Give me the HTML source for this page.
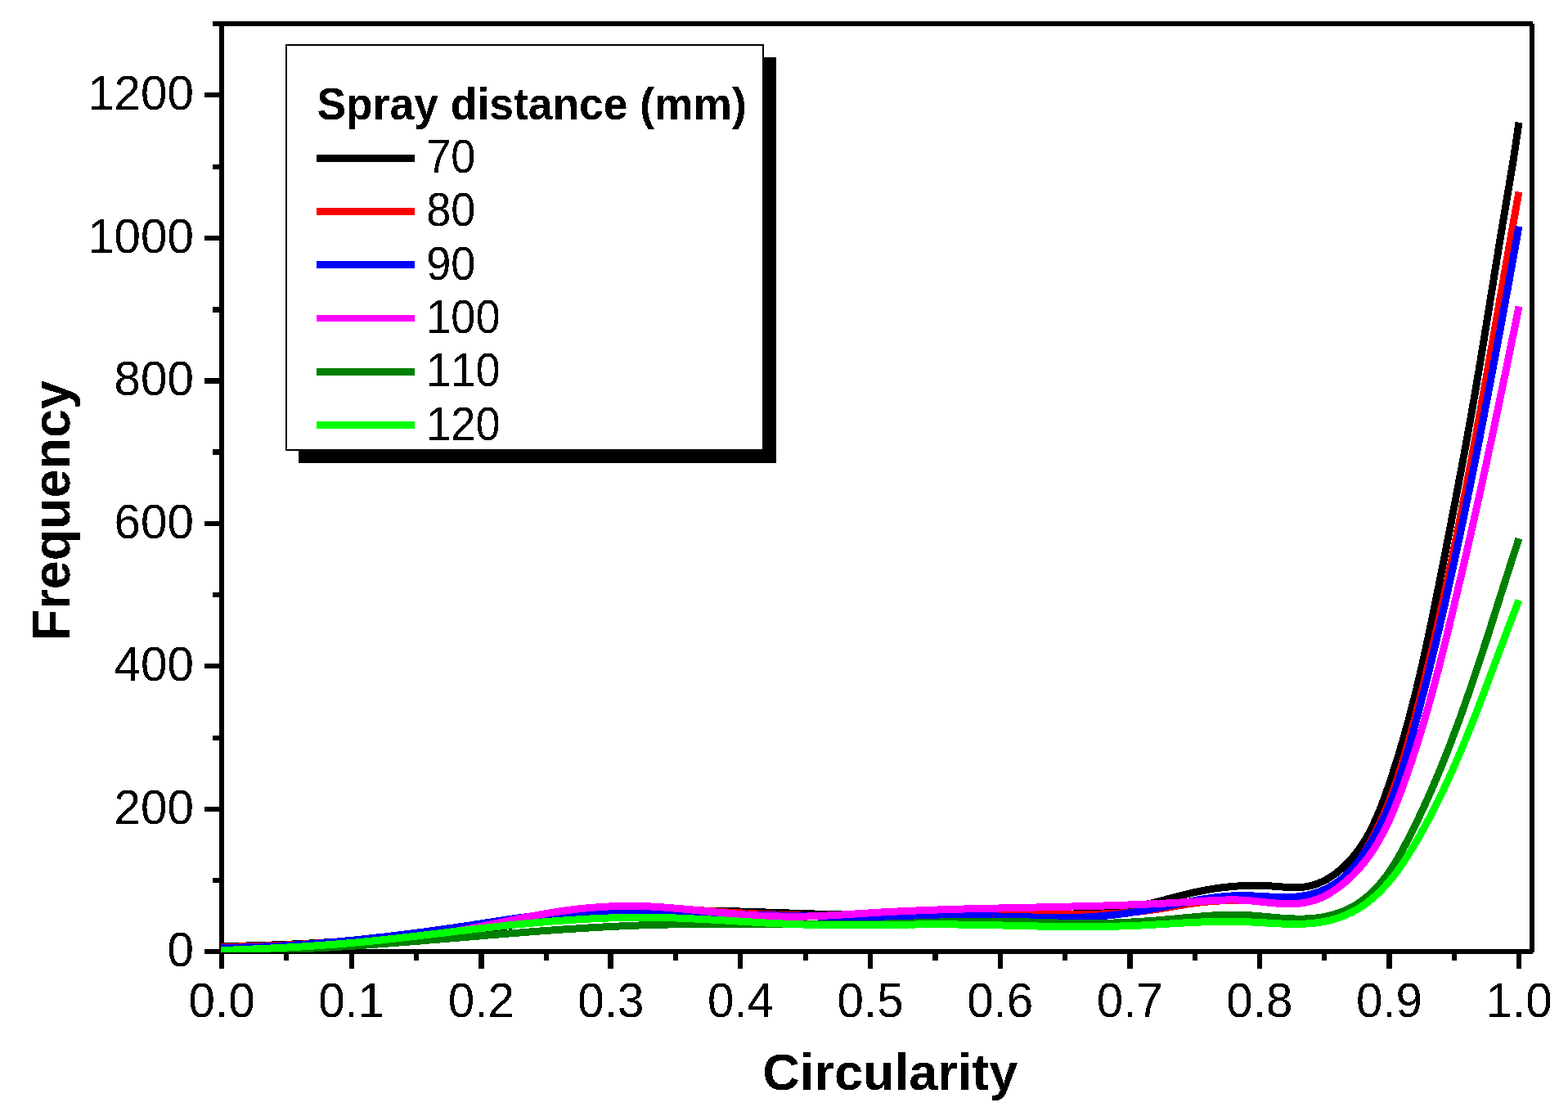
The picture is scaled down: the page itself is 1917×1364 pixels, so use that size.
<!DOCTYPE html>
<html lang="en"><head><meta charset="utf-8"><title>Circularity frequency</title>
<style>
html,body{margin:0;padding:0;background:#fff;}
body{width:1917px;height:1364px;overflow:hidden;}
svg{display:block;}
text{font-family:"Liberation Sans",Arial,Helvetica,sans-serif;fill:#000;font-kerning:none;filter:url(#al);}
.tk{font-size:58.33px;}
.lg{font-size:54.17px;}
.ax{font-size:62.5px;font-weight:bold;}
.b{font-weight:bold;}
</style></head><body>
<svg width="1917" height="1364" viewBox="0 0 1917 1364">
<defs><filter id="al" x="-10%" y="-10%" width="120%" height="120%" color-interpolation-filters="sRGB"><feComponentTransfer><feFuncA type="discrete" tableValues="0 1"/></feComponentTransfer></filter><clipPath id="plot"><rect x="270" y="26" width="1606" height="1138"/></clipPath></defs>
<rect x="0" y="0" width="1917" height="1364" fill="#fff"/>
<g shape-rendering="crispEdges" fill="#000">
<rect x="268" y="26" width="6" height="1158"/>
<rect x="1870" y="29" width="6" height="1135"/>
<rect x="260" y="26" width="1614" height="6"/>
<rect x="250" y="1160" width="1624" height="6"/>
<rect x="260" y="1073" width="8" height="6"/>
<rect x="250" y="986" width="18" height="6"/>
<rect x="260" y="899" width="8" height="6"/>
<rect x="250" y="811" width="18" height="6"/>
<rect x="260" y="724" width="8" height="6"/>
<rect x="250" y="637" width="18" height="6"/>
<rect x="260" y="549" width="8" height="7"/>
<rect x="250" y="462" width="18" height="7"/>
<rect x="260" y="375" width="8" height="7"/>
<rect x="250" y="288" width="18" height="6"/>
<rect x="260" y="201" width="8" height="6"/>
<rect x="250" y="113" width="18" height="6"/>
<rect x="347" y="1166" width="6" height="8"/>
<rect x="427" y="1166" width="6" height="18"/>
<rect x="506" y="1166" width="6" height="8"/>
<rect x="585" y="1166" width="7" height="18"/>
<rect x="665" y="1166" width="6" height="8"/>
<rect x="743" y="1166" width="7" height="18"/>
<rect x="823" y="1166" width="6" height="8"/>
<rect x="902" y="1166" width="6" height="18"/>
<rect x="982" y="1166" width="6" height="8"/>
<rect x="1061" y="1166" width="6" height="18"/>
<rect x="1140" y="1166" width="7" height="8"/>
<rect x="1220" y="1166" width="6" height="18"/>
<rect x="1299" y="1166" width="6" height="8"/>
<rect x="1378" y="1166" width="7" height="18"/>
<rect x="1458" y="1166" width="6" height="8"/>
<rect x="1537" y="1166" width="6" height="18"/>
<rect x="1616" y="1166" width="6" height="8"/>
<rect x="1695" y="1166" width="7" height="18"/>
<rect x="1775" y="1166" width="6" height="8"/>
<rect x="1854" y="1166" width="6" height="18"/>
</g>
<g clip-path="url(#plot)"><g shape-rendering="crispEdges" fill="none" stroke-linejoin="round" stroke-linecap="butt" stroke-width="9">
<path d="M270.0,1156.6 273.9,1156.5 277.8,1156.5 281.6,1156.4 285.5,1156.4 289.4,1156.3 293.3,1156.2 297.2,1156.1 301.1,1156.0 304.9,1155.9 308.8,1155.8 312.7,1155.7 316.6,1155.6 320.5,1155.4 324.4,1155.3 328.2,1155.2 332.1,1155.0 336.0,1154.9 339.9,1154.7 343.8,1154.6 347.6,1154.4 351.5,1154.3 355.4,1154.1 359.3,1153.9 363.2,1153.7 367.1,1153.5 370.9,1153.3 374.8,1153.2 378.7,1153.0 382.6,1152.8 386.5,1152.5 390.3,1152.3 394.2,1152.1 398.1,1151.9 402.0,1151.7 405.8,1151.5 409.7,1151.2 413.6,1151.0 417.5,1150.8 421.4,1150.5 425.2,1150.3 429.1,1150.0 433.0,1149.8 436.9,1149.5 440.7,1149.3 444.6,1149.0 448.5,1148.8 452.4,1148.5 456.2,1148.2 460.1,1148.0 464.0,1147.7 467.9,1147.4 471.7,1147.2 475.6,1146.9 479.5,1146.6 483.4,1146.3 487.2,1146.1 491.1,1145.8 495.0,1145.5 498.8,1145.2 502.7,1144.9 506.6,1144.6 510.5,1144.4 514.3,1144.1 518.2,1143.8 522.1,1143.5 525.9,1143.2 529.8,1142.9 533.7,1142.6 537.5,1142.3 541.4,1141.9 545.3,1141.6 549.1,1141.3 553.0,1140.9 556.9,1140.5 560.7,1140.1 564.6,1139.7 568.4,1139.3 572.3,1138.9 576.1,1138.5 580.0,1138.0 583.9,1137.5 587.7,1137.0 591.6,1136.5 595.4,1135.9 599.3,1135.3 603.1,1134.8 606.9,1134.1 610.8,1133.5 614.6,1132.9 618.5,1132.2 622.3,1131.5 626.2,1130.9 630.0,1130.2 633.8,1129.5 637.7,1128.8 641.5,1128.1 645.4,1127.5 649.2,1126.8 653.0,1126.1 656.9,1125.5 660.7,1124.8 664.6,1124.2 668.4,1123.6 672.3,1123.0 676.1,1122.5 680.0,1121.9 683.8,1121.4 687.7,1120.9 691.5,1120.4 695.4,1119.9 699.2,1119.5 703.1,1119.0 706.9,1118.6 710.8,1118.2 714.6,1117.8 718.5,1117.5 722.4,1117.1 726.2,1116.8 730.1,1116.5 734.0,1116.2 737.8,1115.9 741.7,1115.6 745.6,1115.3 749.4,1115.1 753.3,1114.9 757.2,1114.6 761.0,1114.4 764.9,1114.3 768.8,1114.1 772.6,1113.9 776.5,1113.8 780.4,1113.6 784.3,1113.5 788.1,1113.4 792.0,1113.3 795.9,1113.2 799.8,1113.1 803.6,1113.0 807.5,1113.0 811.4,1112.9 815.3,1112.9 819.2,1112.9 823.0,1112.8 826.9,1112.8 830.8,1112.8 834.7,1112.8 838.6,1112.8 842.4,1112.9 846.3,1112.9 850.2,1112.9 854.1,1113.0 858.0,1113.0 861.9,1113.1 865.7,1113.1 869.6,1113.2 873.5,1113.3 877.4,1113.4 881.3,1113.4 885.2,1113.5 889.1,1113.6 892.9,1113.7 896.8,1113.8 900.7,1113.9 904.6,1114.0 908.5,1114.2 912.4,1114.3 916.3,1114.4 920.2,1114.5 924.0,1114.6 927.9,1114.8 931.8,1114.9 935.7,1115.0 939.6,1115.2 943.5,1115.3 947.4,1115.4 951.3,1115.5 955.1,1115.7 959.0,1115.8 962.9,1115.9 966.8,1116.1 970.7,1116.2 974.6,1116.3 978.5,1116.5 982.4,1116.6 986.2,1116.7 990.1,1116.8 994.0,1116.9 997.9,1117.1 1001.8,1117.2 1005.7,1117.3 1009.6,1117.4 1013.4,1117.5 1017.3,1117.6 1021.2,1117.7 1025.1,1117.8 1029.0,1117.8 1032.9,1117.9 1036.7,1118.0 1040.6,1118.0 1044.5,1118.1 1048.4,1118.2 1052.3,1118.2 1056.2,1118.3 1060.0,1118.3 1063.9,1118.3 1067.8,1118.4 1071.7,1118.4 1075.6,1118.4 1079.4,1118.4 1083.3,1118.4 1087.2,1118.4 1091.1,1118.5 1094.9,1118.5 1098.8,1118.5 1102.7,1118.5 1106.6,1118.5 1110.5,1118.4 1114.3,1118.4 1118.2,1118.4 1122.1,1118.4 1126.0,1118.4 1129.9,1118.4 1133.7,1118.4 1137.6,1118.3 1141.5,1118.3 1145.4,1118.3 1149.3,1118.3 1153.1,1118.3 1157.0,1118.2 1160.9,1118.2 1164.8,1118.2 1168.7,1118.2 1172.5,1118.1 1176.4,1118.1 1180.3,1118.1 1184.2,1118.1 1188.1,1118.1 1192.0,1118.0 1195.9,1118.0 1199.7,1118.0 1203.6,1118.0 1207.5,1118.0 1211.4,1118.0 1215.3,1118.0 1219.2,1118.0 1223.1,1118.0 1227.0,1118.0 1230.9,1118.0 1234.7,1118.0 1238.6,1118.0 1242.5,1118.0 1246.4,1118.0 1250.3,1118.0 1254.2,1118.0 1258.1,1118.0 1262.0,1118.0 1265.9,1118.0 1269.8,1118.0 1273.7,1118.0 1277.6,1117.9 1281.5,1117.9 1285.4,1117.8 1289.2,1117.8 1293.1,1117.7 1297.0,1117.6 1300.9,1117.4 1304.8,1117.3 1308.7,1117.2 1312.5,1117.0 1316.4,1116.8 1320.3,1116.6 1324.1,1116.3 1328.0,1116.1 1331.9,1115.8 1335.7,1115.4 1339.6,1115.1 1343.4,1114.7 1347.3,1114.3 1351.1,1113.9 1355.0,1113.4 1358.8,1112.9 1362.6,1112.4 1366.5,1111.8 1370.3,1111.3 1374.1,1110.6 1377.9,1110.0 1381.8,1109.3 1385.6,1108.6 1389.4,1107.9 1393.2,1107.1 1397.0,1106.3 1400.8,1105.5 1404.6,1104.6 1408.4,1103.7 1412.2,1102.8 1415.9,1101.8 1419.7,1100.9 1423.5,1099.9 1427.3,1098.9 1431.1,1097.9 1434.9,1097.0 1438.6,1096.0 1442.4,1095.0 1446.2,1094.1 1450.0,1093.1 1453.8,1092.2 1457.6,1091.3 1461.3,1090.5 1465.1,1089.6 1468.9,1088.9 1472.7,1088.1 1476.5,1087.4 1480.3,1086.8 1484.2,1086.1 1488.0,1085.6 1491.8,1085.1 1495.6,1084.6 1499.4,1084.2 1503.3,1083.8 1507.1,1083.4 1511.0,1083.1 1514.8,1082.9 1518.7,1082.7 1522.6,1082.5 1526.4,1082.4 1530.3,1082.4 1534.2,1082.3 1538.1,1082.4 1542.0,1082.4 1545.9,1082.5 1549.8,1082.7 1553.8,1082.9 1557.7,1083.2 1561.7,1083.5 1565.6,1083.8 1569.6,1084.1 1573.5,1084.4 1577.5,1084.6 1581.4,1084.7 1585.3,1084.8 1589.1,1084.6 1593.0,1084.3 1596.7,1083.8 1600.5,1083.1 1604.2,1082.2 1607.8,1081.1 1611.4,1079.8 1614.9,1078.3 1618.4,1076.7 1621.8,1074.9 1625.1,1072.9 1628.4,1070.8 1631.6,1068.6 1634.7,1066.3 1637.7,1063.8 1640.7,1061.2 1643.6,1058.6 1646.4,1055.8 1649.1,1053.0 1651.8,1050.1 1654.3,1047.1 1656.8,1044.1 1659.2,1041.1 1661.4,1038.0 1663.7,1034.8 1665.8,1031.6 1667.9,1028.3 1669.9,1025.0 1671.8,1021.7 1673.7,1018.3 1675.5,1014.9 1677.3,1011.4 1679.0,1007.9 1680.6,1004.4 1682.2,1000.9 1683.8,997.3 1685.3,993.7 1686.8,990.1 1688.2,986.5 1689.6,982.9 1691.0,979.2 1692.3,975.5 1693.7,971.8 1695.0,968.1 1696.3,964.5 1697.5,960.8 1698.8,957.1 1700.1,953.4 1701.3,949.6 1702.5,945.9 1703.7,942.2 1704.9,938.5 1706.1,934.8 1707.3,931.1 1708.4,927.4 1709.6,923.6 1710.7,919.9 1711.8,916.2 1712.9,912.4 1714.0,908.7 1715.1,905.0 1716.2,901.2 1717.2,897.5 1718.3,893.7 1719.3,890.0 1720.4,886.3 1721.4,882.5 1722.4,878.8 1723.4,875.0 1724.4,871.2 1725.4,867.5 1726.3,863.7 1727.3,860.0 1728.2,856.2 1729.2,852.4 1730.1,848.7 1731.1,844.9 1732.0,841.1 1732.9,837.4 1733.8,833.6 1734.7,829.8 1735.6,826.0 1736.5,822.3 1737.3,818.5 1738.2,814.7 1739.1,810.9 1739.9,807.1 1740.8,803.3 1741.6,799.6 1742.4,795.8 1743.3,792.0 1744.1,788.2 1744.9,784.4 1745.7,780.6 1746.5,776.8 1747.3,773.0 1748.1,769.2 1748.9,765.4 1749.7,761.6 1750.5,757.8 1751.3,754.0 1752.1,750.2 1752.9,746.4 1753.6,742.6 1754.4,738.8 1755.2,735.0 1755.9,731.2 1756.7,727.4 1757.5,723.6 1758.2,719.8 1759.0,716.0 1759.7,712.2 1760.5,708.4 1761.2,704.6 1762.0,700.7 1762.7,696.9 1763.5,693.1 1764.2,689.3 1765.0,685.5 1765.7,681.7 1766.5,677.9 1767.2,674.1 1768.0,670.3 1768.7,666.4 1769.4,662.6 1770.2,658.8 1770.9,655.0 1771.7,651.2 1772.4,647.4 1773.2,643.6 1773.9,639.8 1774.6,635.9 1775.4,632.1 1776.1,628.3 1776.8,624.5 1777.6,620.7 1778.3,616.9 1779.1,613.0 1779.8,609.2 1780.5,605.4 1781.2,601.6 1782.0,597.8 1782.7,594.0 1783.4,590.1 1784.1,586.3 1784.9,582.5 1785.6,578.7 1786.3,574.9 1787.0,571.1 1787.7,567.2 1788.4,563.4 1789.1,559.6 1789.9,555.8 1790.6,551.9 1791.3,548.1 1792.0,544.3 1792.7,540.5 1793.4,536.7 1794.1,532.8 1794.8,529.0 1795.4,525.2 1796.1,521.4 1796.8,517.5 1797.5,513.7 1798.2,509.9 1798.9,506.1 1799.5,502.2 1800.2,498.4 1800.9,494.6 1801.5,490.8 1802.2,486.9 1802.9,483.1 1803.5,479.3 1804.2,475.5 1804.8,471.6 1805.5,467.8 1806.1,464.0 1806.8,460.1 1807.4,456.3 1808.1,452.5 1808.7,448.6 1809.3,444.8 1810.0,441.0 1810.6,437.2 1811.2,433.3 1811.9,429.5 1812.5,425.7 1813.1,421.8 1813.8,418.0 1814.4,414.2 1815.0,410.3 1815.6,406.5 1816.2,402.7 1816.9,398.8 1817.5,395.0 1818.1,391.2 1818.7,387.3 1819.3,383.5 1820.0,379.7 1820.6,375.8 1821.2,372.0 1821.8,368.2 1822.4,364.3 1823.0,360.5 1823.7,356.7 1824.3,352.8 1824.9,349.0 1825.5,345.2 1826.1,341.3 1826.7,337.5 1827.3,333.7 1828.0,329.8 1828.6,326.0 1829.2,322.2 1829.8,318.3 1830.4,314.5 1831.1,310.7 1831.7,306.8 1832.3,303.0 1832.9,299.2 1833.6,295.3 1834.2,291.5 1834.8,287.7 1835.4,283.8 1836.1,280.0 1836.7,276.2 1837.3,272.3 1838.0,268.5 1838.6,264.7 1839.3,260.8 1839.9,257.0 1840.6,253.2 1841.2,249.3 1841.8,245.5 1842.5,241.7 1843.1,237.9 1843.8,234.0 1844.4,230.2 1845.1,226.4 1845.7,222.5 1846.3,218.7 1847.0,214.9 1847.6,211.0 1848.2,207.2 1848.9,203.4 1849.5,199.5 1850.1,195.7 1850.7,191.9 1851.3,188.0 1851.9,184.2 1852.5,180.3 1853.1,176.5 1853.7,172.7 1854.2,168.8 1854.8,165.0 1855.4,161.1 1855.9,157.3 1856.5,153.4 1857.0,149.6" stroke="#000000"/>
<path d="M270.0,1157.5 273.8,1157.4 277.5,1157.3 281.3,1157.3 285.1,1157.2 288.8,1157.1 292.6,1157.0 296.3,1156.9 300.1,1156.8 303.9,1156.7 307.6,1156.6 311.4,1156.5 315.2,1156.3 318.9,1156.2 322.7,1156.1 326.5,1155.9 330.2,1155.8 334.0,1155.7 337.7,1155.5 341.5,1155.3 345.3,1155.2 349.0,1155.0 352.8,1154.8 356.6,1154.7 360.3,1154.5 364.1,1154.3 367.8,1154.1 371.6,1153.9 375.4,1153.7 379.1,1153.5 382.9,1153.2 386.6,1153.0 390.4,1152.8 394.2,1152.5 397.9,1152.3 401.7,1152.0 405.4,1151.8 409.2,1151.5 412.9,1151.2 416.7,1151.0 420.4,1150.7 424.2,1150.4 427.9,1150.1 431.7,1149.8 435.4,1149.4 439.2,1149.1 442.9,1148.8 446.7,1148.4 450.4,1148.1 454.2,1147.7 457.9,1147.4 461.7,1147.0 465.4,1146.6 469.2,1146.2 472.9,1145.8 476.7,1145.4 480.4,1145.0 484.1,1144.6 487.9,1144.2 491.6,1143.7 495.3,1143.3 499.1,1142.8 502.8,1142.4 506.6,1141.9 510.3,1141.4 514.0,1140.9 517.7,1140.4 521.5,1139.9 525.2,1139.4 528.9,1138.9 532.7,1138.3 536.4,1137.8 540.1,1137.3 543.8,1136.7 547.6,1136.2 551.3,1135.6 555.0,1135.0 558.7,1134.5 562.5,1133.9 566.2,1133.3 569.9,1132.7 573.6,1132.2 577.3,1131.6 581.1,1131.0 584.8,1130.4 588.5,1129.8 592.2,1129.2 595.9,1128.6 599.7,1128.1 603.4,1127.5 607.1,1126.9 610.8,1126.3 614.5,1125.7 618.3,1125.1 622.0,1124.6 625.7,1124.0 629.4,1123.4 633.2,1122.8 636.9,1122.3 640.6,1121.7 644.3,1121.2 648.1,1120.6 651.8,1120.1 655.5,1119.6 659.3,1119.0 663.0,1118.5 666.7,1118.0 670.5,1117.5 674.2,1117.0 677.9,1116.5 681.7,1116.0 685.4,1115.6 689.1,1115.1 692.9,1114.7 696.6,1114.2 700.4,1113.8 704.1,1113.4 707.9,1113.0 711.6,1112.6 715.4,1112.3 719.1,1111.9 722.8,1111.6 726.6,1111.3 730.3,1111.0 734.1,1110.7 737.9,1110.4 741.6,1110.2 745.4,1110.0 749.1,1109.8 752.9,1109.6 756.6,1109.4 760.4,1109.3 764.1,1109.1 767.9,1109.0 771.7,1109.0 775.4,1108.9 779.2,1108.9 782.9,1108.9 786.7,1108.9 790.5,1108.9 794.2,1109.0 798.0,1109.1 801.8,1109.2 805.5,1109.4 809.3,1109.6 813.1,1109.8 816.8,1110.0 820.6,1110.2 824.3,1110.4 828.1,1110.7 831.9,1111.0 835.6,1111.2 839.4,1111.5 843.2,1111.8 846.9,1112.0 850.7,1112.3 854.4,1112.6 858.2,1112.8 862.0,1113.1 865.7,1113.4 869.5,1113.6 873.2,1113.9 877.0,1114.1 880.7,1114.4 884.5,1114.6 888.2,1114.9 892.0,1115.1 895.7,1115.3 899.5,1115.6 903.3,1115.8 907.0,1116.0 910.8,1116.2 914.5,1116.4 918.3,1116.6 922.1,1116.8 925.8,1117.0 929.6,1117.2 933.3,1117.4 937.1,1117.5 940.9,1117.7 944.6,1117.9 948.4,1118.0 952.1,1118.2 955.9,1118.3 959.7,1118.4 963.4,1118.6 967.2,1118.7 971.0,1118.8 974.7,1118.9 978.5,1119.0 982.2,1119.1 986.0,1119.2 989.8,1119.3 993.5,1119.4 997.3,1119.4 1001.1,1119.5 1004.8,1119.6 1008.6,1119.6 1012.4,1119.7 1016.1,1119.7 1019.9,1119.7 1023.7,1119.8 1027.4,1119.8 1031.2,1119.8 1035.0,1119.8 1038.7,1119.8 1042.5,1119.8 1046.3,1119.7 1050.0,1119.7 1053.8,1119.7 1057.5,1119.7 1061.3,1119.6 1065.1,1119.6 1068.8,1119.5 1072.6,1119.4 1076.4,1119.3 1080.1,1119.3 1083.9,1119.2 1087.7,1119.1 1091.4,1119.0 1095.2,1118.9 1098.9,1118.8 1102.7,1118.7 1106.5,1118.6 1110.2,1118.5 1114.0,1118.4 1117.7,1118.2 1121.5,1118.1 1125.3,1118.0 1129.0,1117.9 1132.8,1117.8 1136.6,1117.7 1140.3,1117.5 1144.1,1117.4 1147.8,1117.3 1151.6,1117.2 1155.4,1117.1 1159.1,1117.0 1162.9,1116.9 1166.6,1116.8 1170.4,1116.7 1174.2,1116.6 1177.9,1116.5 1181.7,1116.4 1185.5,1116.4 1189.2,1116.3 1193.0,1116.2 1196.8,1116.2 1200.5,1116.1 1204.3,1116.1 1208.0,1116.1 1211.8,1116.0 1215.6,1116.0 1219.3,1116.0 1223.1,1116.0 1226.9,1116.1 1230.6,1116.1 1234.4,1116.1 1238.2,1116.2 1242.0,1116.2 1245.7,1116.3 1249.5,1116.3 1253.3,1116.4 1257.0,1116.5 1260.8,1116.6 1264.6,1116.6 1268.3,1116.7 1272.1,1116.8 1275.9,1116.9 1279.6,1116.9 1283.4,1117.0 1287.2,1117.1 1290.9,1117.2 1294.7,1117.2 1298.5,1117.3 1302.2,1117.3 1306.0,1117.4 1309.8,1117.4 1313.5,1117.4 1317.3,1117.4 1321.1,1117.4 1324.8,1117.4 1328.6,1117.4 1332.3,1117.3 1336.1,1117.3 1339.9,1117.2 1343.6,1117.1 1347.4,1117.0 1351.1,1116.9 1354.9,1116.8 1358.6,1116.6 1362.4,1116.4 1366.1,1116.2 1369.9,1116.0 1373.6,1115.8 1377.4,1115.5 1381.1,1115.2 1384.9,1114.9 1388.6,1114.5 1392.4,1114.2 1396.1,1113.7 1399.8,1113.3 1403.6,1112.8 1407.3,1112.4 1411.0,1111.8 1414.8,1111.3 1418.5,1110.7 1422.2,1110.1 1425.9,1109.4 1429.7,1108.8 1433.4,1108.2 1437.1,1107.5 1440.8,1106.9 1444.6,1106.3 1448.3,1105.6 1452.0,1105.0 1455.8,1104.5 1459.5,1104.0 1463.2,1103.5 1467.0,1103.0 1470.7,1102.6 1474.5,1102.2 1478.2,1101.9 1482.0,1101.6 1485.7,1101.3 1489.5,1101.1 1493.2,1100.8 1497.0,1100.7 1500.8,1100.5 1504.5,1100.4 1508.3,1100.3 1512.0,1100.3 1515.8,1100.2 1519.5,1100.2 1523.3,1100.1 1527.0,1100.1 1530.8,1100.1 1534.5,1100.1 1538.3,1100.0 1542.1,1100.0 1545.8,1099.9 1549.6,1099.9 1553.3,1099.8 1557.1,1099.7 1560.9,1099.5 1564.6,1099.4 1568.4,1099.2 1572.2,1099.0 1576.0,1098.7 1579.8,1098.4 1583.5,1098.0 1587.3,1097.6 1591.1,1097.0 1594.8,1096.4 1598.5,1095.7 1602.2,1094.9 1605.8,1094.0 1609.4,1092.9 1613.0,1091.7 1616.5,1090.4 1619.9,1088.8 1623.3,1087.2 1626.6,1085.3 1629.8,1083.4 1632.9,1081.3 1635.9,1079.1 1638.9,1076.8 1641.7,1074.4 1644.4,1071.9 1647.1,1069.3 1649.7,1066.6 1652.2,1063.8 1654.6,1060.9 1656.9,1058.0 1659.2,1055.0 1661.4,1051.9 1663.5,1048.8 1665.6,1045.6 1667.7,1042.4 1669.6,1039.1 1671.6,1035.8 1673.5,1032.5 1675.3,1029.2 1677.1,1025.8 1678.9,1022.5 1680.6,1019.1 1682.3,1015.7 1684.0,1012.3 1685.6,1008.9 1687.2,1005.5 1688.8,1002.0 1690.3,998.6 1691.8,995.1 1693.3,991.7 1694.7,988.2 1696.1,984.7 1697.5,981.2 1698.9,977.7 1700.2,974.2 1701.6,970.7 1702.9,967.1 1704.1,963.6 1705.4,960.0 1706.6,956.5 1707.8,952.9 1709.0,949.4 1710.2,945.8 1711.3,942.2 1712.4,938.6 1713.5,935.0 1714.6,931.4 1715.7,927.8 1716.8,924.2 1717.9,920.6 1718.9,917.0 1719.9,913.4 1721.0,909.8 1722.0,906.2 1723.0,902.5 1724.0,898.9 1725.0,895.3 1726.0,891.6 1726.9,888.0 1727.9,884.4 1728.9,880.7 1729.8,877.1 1730.8,873.5 1731.8,869.8 1732.7,866.2 1733.6,862.5 1734.6,858.9 1735.5,855.2 1736.5,851.6 1737.4,847.9 1738.3,844.3 1739.2,840.6 1740.1,837.0 1741.0,833.3 1741.9,829.7 1742.8,826.0 1743.7,822.3 1744.6,818.7 1745.5,815.0 1746.4,811.4 1747.3,807.7 1748.2,804.0 1749.0,800.4 1749.9,796.7 1750.8,793.0 1751.6,789.4 1752.5,785.7 1753.3,782.0 1754.2,778.4 1755.0,774.7 1755.9,771.0 1756.7,767.4 1757.6,763.7 1758.4,760.0 1759.2,756.3 1760.0,752.7 1760.9,749.0 1761.7,745.3 1762.5,741.6 1763.3,738.0 1764.1,734.3 1764.9,730.6 1765.7,726.9 1766.5,723.2 1767.3,719.6 1768.1,715.9 1768.9,712.2 1769.7,708.5 1770.5,704.8 1771.3,701.2 1772.1,697.5 1772.8,693.8 1773.6,690.1 1774.4,686.4 1775.1,682.7 1775.9,679.0 1776.7,675.4 1777.4,671.7 1778.2,668.0 1778.9,664.3 1779.7,660.6 1780.4,656.9 1781.2,653.2 1781.9,649.5 1782.7,645.8 1783.4,642.1 1784.2,638.5 1784.9,634.8 1785.6,631.1 1786.3,627.4 1787.1,623.7 1787.8,620.0 1788.5,616.3 1789.2,612.6 1790.0,608.9 1790.7,605.2 1791.4,601.5 1792.1,597.8 1792.8,594.1 1793.5,590.4 1794.2,586.7 1794.9,583.0 1795.6,579.3 1796.3,575.6 1797.0,571.9 1797.7,568.2 1798.4,564.5 1799.1,560.8 1799.8,557.1 1800.5,553.4 1801.2,549.7 1801.9,546.0 1802.5,542.3 1803.2,538.6 1803.9,534.9 1804.6,531.2 1805.3,527.5 1805.9,523.8 1806.6,520.1 1807.3,516.4 1807.9,512.7 1808.6,509.0 1809.3,505.3 1810.0,501.6 1810.6,497.9 1811.3,494.2 1811.9,490.4 1812.6,486.7 1813.3,483.0 1813.9,479.3 1814.6,475.6 1815.3,471.9 1815.9,468.2 1816.6,464.5 1817.2,460.8 1817.9,457.1 1818.5,453.4 1819.2,449.7 1819.8,446.0 1820.5,442.3 1821.1,438.5 1821.8,434.8 1822.4,431.1 1823.1,427.4 1823.7,423.7 1824.4,420.0 1825.0,416.3 1825.7,412.6 1826.3,408.9 1827.0,405.2 1827.6,401.5 1828.3,397.7 1828.9,394.0 1829.6,390.3 1830.2,386.6 1830.9,382.9 1831.5,379.2 1832.1,375.5 1832.8,371.8 1833.4,368.1 1834.1,364.4 1834.7,360.7 1835.4,356.9 1836.0,353.2 1836.7,349.5 1837.3,345.8 1838.0,342.1 1838.6,338.4 1839.2,334.7 1839.9,331.0 1840.5,327.3 1841.2,323.6 1841.8,319.9 1842.5,316.1 1843.1,312.4 1843.8,308.7 1844.4,305.0 1845.1,301.3 1845.8,297.6 1846.4,293.9 1847.1,290.2 1847.7,286.5 1848.4,282.8 1849.0,279.1 1849.7,275.4 1850.3,271.7 1851.0,267.9 1851.7,264.2 1852.3,260.5 1853.0,256.8 1853.7,253.1 1854.3,249.4 1855.0,245.7 1855.7,242.0 1856.3,238.3 1857.0,234.6" stroke="#ff0000"/>
<path d="M270.0,1158.5 273.7,1158.5 277.4,1158.4 281.1,1158.3 284.8,1158.3 288.5,1158.2 292.2,1158.1 295.9,1158.0 299.6,1157.9 303.3,1157.8 307.0,1157.7 310.7,1157.5 314.4,1157.4 318.1,1157.3 321.8,1157.1 325.5,1156.9 329.2,1156.8 332.9,1156.6 336.5,1156.4 340.2,1156.2 343.9,1156.0 347.6,1155.8 351.3,1155.6 355.0,1155.4 358.7,1155.1 362.4,1154.9 366.0,1154.6 369.7,1154.4 373.4,1154.1 377.1,1153.9 380.8,1153.6 384.5,1153.3 388.1,1153.0 391.8,1152.7 395.5,1152.4 399.2,1152.1 402.9,1151.8 406.5,1151.5 410.2,1151.2 413.9,1150.8 417.6,1150.5 421.3,1150.1 424.9,1149.8 428.6,1149.4 432.3,1149.1 436.0,1148.7 439.6,1148.3 443.3,1147.9 447.0,1147.5 450.7,1147.1 454.3,1146.7 458.0,1146.3 461.7,1145.9 465.3,1145.5 469.0,1145.1 472.7,1144.7 476.3,1144.2 480.0,1143.8 483.7,1143.4 487.3,1142.9 491.0,1142.5 494.7,1142.0 498.3,1141.5 502.0,1141.1 505.7,1140.6 509.3,1140.1 513.0,1139.6 516.7,1139.2 520.3,1138.7 524.0,1138.2 527.7,1137.7 531.3,1137.2 535.0,1136.7 538.7,1136.1 542.3,1135.6 546.0,1135.1 549.6,1134.6 553.3,1134.1 557.0,1133.5 560.6,1133.0 564.3,1132.5 567.9,1131.9 571.6,1131.4 575.3,1130.8 578.9,1130.3 582.6,1129.7 586.2,1129.2 589.9,1128.6 593.5,1128.0 597.2,1127.5 600.9,1126.9 604.5,1126.3 608.2,1125.8 611.8,1125.2 615.5,1124.7 619.1,1124.1 622.8,1123.6 626.5,1123.0 630.1,1122.5 633.8,1122.0 637.4,1121.5 641.1,1121.0 644.8,1120.5 648.4,1120.0 652.1,1119.6 655.8,1119.1 659.4,1118.7 663.1,1118.3 666.8,1118.0 670.4,1117.6 674.1,1117.3 677.8,1117.0 681.5,1116.7 685.1,1116.4 688.8,1116.1 692.5,1115.9 696.2,1115.7 699.9,1115.5 703.6,1115.3 707.2,1115.2 710.9,1115.0 714.6,1114.9 718.3,1114.8 722.0,1114.7 725.7,1114.6 729.4,1114.5 733.1,1114.4 736.8,1114.4 740.5,1114.3 744.2,1114.3 747.9,1114.3 751.6,1114.3 755.3,1114.3 759.0,1114.3 762.7,1114.3 766.4,1114.4 770.0,1114.4 773.7,1114.4 777.4,1114.5 781.1,1114.5 784.8,1114.6 788.5,1114.7 792.2,1114.7 795.9,1114.8 799.6,1114.9 803.3,1115.0 807.0,1115.0 810.7,1115.1 814.4,1115.2 818.1,1115.3 821.8,1115.4 825.5,1115.5 829.2,1115.6 832.9,1115.7 836.6,1115.8 840.3,1115.9 844.0,1116.0 847.7,1116.1 851.4,1116.2 855.1,1116.3 858.8,1116.4 862.5,1116.5 866.2,1116.6 869.9,1116.7 873.6,1116.8 877.3,1116.9 881.0,1117.0 884.7,1117.1 888.4,1117.2 892.0,1117.3 895.7,1117.4 899.4,1117.5 903.1,1117.6 906.8,1117.8 910.5,1117.9 914.2,1118.0 917.9,1118.1 921.6,1118.2 925.3,1118.3 929.0,1118.4 932.7,1118.5 936.4,1118.6 940.1,1118.7 943.8,1118.8 947.5,1118.9 951.1,1119.0 954.8,1119.1 958.5,1119.1 962.2,1119.2 965.9,1119.3 969.6,1119.4 973.3,1119.5 977.0,1119.6 980.7,1119.7 984.4,1119.7 988.1,1119.8 991.8,1119.9 995.5,1119.9 999.2,1120.0 1002.8,1120.1 1006.5,1120.1 1010.2,1120.2 1013.9,1120.2 1017.6,1120.3 1021.3,1120.3 1025.0,1120.4 1028.7,1120.4 1032.4,1120.4 1036.1,1120.5 1039.8,1120.5 1043.5,1120.5 1047.2,1120.5 1050.9,1120.6 1054.6,1120.6 1058.3,1120.6 1061.9,1120.6 1065.6,1120.6 1069.3,1120.6 1073.0,1120.6 1076.7,1120.5 1080.4,1120.5 1084.1,1120.5 1087.8,1120.5 1091.5,1120.4 1095.2,1120.4 1098.9,1120.4 1102.6,1120.3 1106.3,1120.3 1110.0,1120.3 1113.7,1120.2 1117.4,1120.2 1121.1,1120.2 1124.8,1120.1 1128.5,1120.1 1132.2,1120.0 1135.9,1120.0 1139.6,1120.0 1143.3,1119.9 1147.0,1119.9 1150.6,1119.9 1154.3,1119.8 1158.0,1119.8 1161.7,1119.8 1165.4,1119.8 1169.1,1119.7 1172.8,1119.7 1176.5,1119.7 1180.2,1119.7 1183.9,1119.7 1187.6,1119.7 1191.3,1119.7 1195.0,1119.7 1198.7,1119.7 1202.4,1119.8 1206.1,1119.8 1209.8,1119.8 1213.5,1119.9 1217.2,1119.9 1220.9,1120.0 1224.6,1120.1 1228.3,1120.2 1232.0,1120.2 1235.7,1120.3 1239.4,1120.4 1243.1,1120.5 1246.8,1120.6 1250.5,1120.7 1254.2,1120.8 1257.9,1120.9 1261.6,1121.0 1265.3,1121.1 1269.0,1121.2 1272.7,1121.3 1276.4,1121.3 1280.1,1121.4 1283.7,1121.4 1287.4,1121.5 1291.1,1121.5 1294.8,1121.5 1298.5,1121.5 1302.2,1121.5 1305.9,1121.5 1309.6,1121.4 1313.3,1121.3 1317.0,1121.3 1320.7,1121.1 1324.3,1121.0 1328.0,1120.9 1331.7,1120.7 1335.4,1120.5 1339.1,1120.2 1342.8,1120.0 1346.5,1119.7 1350.1,1119.3 1353.8,1119.0 1357.5,1118.6 1361.2,1118.2 1364.8,1117.8 1368.5,1117.3 1372.2,1116.9 1375.9,1116.4 1379.5,1115.8 1383.2,1115.3 1386.8,1114.7 1390.5,1114.2 1394.1,1113.6 1397.8,1112.9 1401.4,1112.3 1405.1,1111.7 1408.7,1111.0 1412.4,1110.3 1416.0,1109.6 1419.6,1108.9 1423.2,1108.2 1426.9,1107.4 1430.5,1106.7 1434.1,1106.0 1437.7,1105.2 1441.3,1104.5 1445.0,1103.8 1448.6,1103.0 1452.2,1102.3 1455.8,1101.7 1459.4,1101.0 1463.1,1100.3 1466.7,1099.7 1470.3,1099.1 1473.9,1098.5 1477.6,1098.0 1481.2,1097.4 1484.9,1097.0 1488.5,1096.5 1492.2,1096.1 1495.8,1095.7 1499.5,1095.4 1503.2,1095.2 1506.8,1094.9 1510.5,1094.8 1514.2,1094.7 1517.9,1094.6 1521.7,1094.6 1525.4,1094.7 1529.1,1094.8 1532.9,1095.0 1536.6,1095.2 1540.3,1095.4 1544.1,1095.6 1547.8,1095.8 1551.6,1096.0 1555.3,1096.2 1559.1,1096.4 1562.8,1096.5 1566.5,1096.6 1570.2,1096.6 1573.9,1096.6 1577.6,1096.5 1581.3,1096.3 1585.0,1096.0 1588.6,1095.6 1592.3,1095.1 1595.9,1094.5 1599.4,1093.8 1603.0,1092.9 1606.5,1091.9 1610.0,1090.8 1613.5,1089.6 1616.9,1088.2 1620.2,1086.7 1623.5,1085.1 1626.7,1083.4 1629.9,1081.5 1632.9,1079.6 1635.9,1077.5 1638.8,1075.3 1641.6,1073.0 1644.4,1070.6 1647.1,1068.1 1649.7,1065.5 1652.2,1062.8 1654.7,1060.1 1657.1,1057.2 1659.4,1054.3 1661.7,1051.4 1663.9,1048.4 1666.1,1045.3 1668.2,1042.2 1670.3,1039.0 1672.3,1035.9 1674.3,1032.7 1676.2,1029.4 1678.1,1026.2 1679.9,1022.9 1681.7,1019.6 1683.5,1016.3 1685.2,1013.0 1686.9,1009.7 1688.5,1006.4 1690.1,1003.1 1691.7,999.7 1693.3,996.3 1694.8,993.0 1696.2,989.6 1697.7,986.2 1699.1,982.8 1700.5,979.3 1701.9,975.9 1703.2,972.5 1704.5,969.0 1705.8,965.6 1707.1,962.1 1708.3,958.6 1709.5,955.2 1710.7,951.7 1711.9,948.2 1713.0,944.7 1714.2,941.2 1715.3,937.6 1716.4,934.1 1717.5,930.6 1718.5,927.1 1719.6,923.5 1720.6,920.0 1721.7,916.4 1722.7,912.9 1723.7,909.3 1724.7,905.8 1725.7,902.2 1726.6,898.7 1727.6,895.1 1728.6,891.5 1729.5,888.0 1730.5,884.4 1731.5,880.8 1732.4,877.3 1733.4,873.7 1734.3,870.1 1735.2,866.6 1736.2,863.0 1737.1,859.4 1738.0,855.8 1738.9,852.2 1739.9,848.7 1740.8,845.1 1741.7,841.5 1742.6,837.9 1743.5,834.3 1744.4,830.8 1745.3,827.2 1746.2,823.6 1747.1,820.0 1748.0,816.4 1748.8,812.8 1749.7,809.2 1750.6,805.6 1751.5,802.0 1752.3,798.5 1753.2,794.9 1754.1,791.3 1754.9,787.7 1755.8,784.1 1756.6,780.5 1757.5,776.9 1758.3,773.3 1759.2,769.7 1760.0,766.1 1760.9,762.5 1761.7,758.9 1762.5,755.3 1763.4,751.7 1764.2,748.1 1765.0,744.5 1765.8,740.9 1766.7,737.2 1767.5,733.6 1768.3,730.0 1769.1,726.4 1769.9,722.8 1770.7,719.2 1771.5,715.6 1772.3,712.0 1773.1,708.4 1773.9,704.8 1774.7,701.2 1775.5,697.5 1776.3,693.9 1777.1,690.3 1777.9,686.7 1778.6,683.1 1779.4,679.5 1780.2,675.9 1781.0,672.3 1781.7,668.6 1782.5,665.0 1783.3,661.4 1784.1,657.8 1784.8,654.2 1785.6,650.6 1786.3,646.9 1787.1,643.3 1787.9,639.7 1788.6,636.1 1789.4,632.5 1790.1,628.9 1790.9,625.2 1791.6,621.6 1792.4,618.0 1793.1,614.4 1793.9,610.8 1794.6,607.1 1795.3,603.5 1796.1,599.9 1796.8,596.3 1797.6,592.7 1798.3,589.0 1799.0,585.4 1799.7,581.8 1800.5,578.2 1801.2,574.5 1801.9,570.9 1802.6,567.3 1803.4,563.7 1804.1,560.0 1804.8,556.4 1805.5,552.8 1806.2,549.2 1807.0,545.5 1807.7,541.9 1808.4,538.3 1809.1,534.7 1809.8,531.0 1810.5,527.4 1811.2,523.8 1811.9,520.2 1812.6,516.5 1813.3,512.9 1814.0,509.3 1814.7,505.7 1815.4,502.0 1816.1,498.4 1816.8,494.8 1817.5,491.1 1818.2,487.5 1818.9,483.9 1819.6,480.2 1820.3,476.6 1821.0,473.0 1821.6,469.4 1822.3,465.7 1823.0,462.1 1823.7,458.5 1824.4,454.8 1825.1,451.2 1825.7,447.6 1826.4,443.9 1827.1,440.3 1827.8,436.7 1828.5,433.0 1829.1,429.4 1829.8,425.8 1830.5,422.1 1831.2,418.5 1831.8,414.9 1832.5,411.2 1833.2,407.6 1833.9,404.0 1834.5,400.3 1835.2,396.7 1835.9,393.1 1836.5,389.4 1837.2,385.8 1837.9,382.2 1838.5,378.5 1839.2,374.9 1839.9,371.3 1840.5,367.6 1841.2,364.0 1841.9,360.4 1842.5,356.7 1843.2,353.1 1843.8,349.4 1844.5,345.8 1845.2,342.2 1845.8,338.5 1846.5,334.9 1847.1,331.3 1847.8,327.6 1848.5,324.0 1849.1,320.4 1849.8,316.7 1850.4,313.1 1851.1,309.4 1851.7,305.8 1852.4,302.2 1853.1,298.5 1853.7,294.9 1854.4,291.3 1855.0,287.6 1855.7,284.0 1856.3,280.3 1857.0,276.7" stroke="#0000ff"/>
<path d="M270.0,1162.0 273.5,1161.9 277.1,1161.8 280.6,1161.7 284.2,1161.6 287.7,1161.4 291.3,1161.3 294.8,1161.2 298.4,1161.1 301.9,1161.0 305.5,1160.9 309.0,1160.7 312.6,1160.6 316.1,1160.5 319.7,1160.4 323.2,1160.2 326.8,1160.1 330.3,1160.0 333.9,1159.8 337.5,1159.7 341.0,1159.5 344.6,1159.4 348.1,1159.2 351.7,1159.1 355.2,1158.9 358.8,1158.7 362.3,1158.6 365.9,1158.4 369.4,1158.2 373.0,1158.0 376.5,1157.8 380.1,1157.6 383.6,1157.4 387.2,1157.2 390.7,1157.0 394.3,1156.8 397.8,1156.6 401.4,1156.3 404.9,1156.1 408.4,1155.9 412.0,1155.6 415.5,1155.4 419.1,1155.1 422.6,1154.8 426.2,1154.6 429.7,1154.3 433.2,1154.0 436.8,1153.7 440.3,1153.4 443.9,1153.1 447.4,1152.8 450.9,1152.4 454.5,1152.1 458.0,1151.8 461.5,1151.4 465.1,1151.0 468.6,1150.7 472.1,1150.3 475.7,1149.9 479.2,1149.5 482.7,1149.1 486.3,1148.7 489.8,1148.3 493.3,1147.8 496.8,1147.4 500.4,1146.9 503.9,1146.5 507.4,1146.0 510.9,1145.5 514.4,1145.0 518.0,1144.5 521.5,1144.0 525.0,1143.5 528.5,1142.9 532.0,1142.4 535.5,1141.8 539.0,1141.3 542.5,1140.7 546.0,1140.1 549.5,1139.5 553.0,1138.9 556.5,1138.3 560.0,1137.7 563.5,1137.1 567.0,1136.4 570.5,1135.8 574.0,1135.1 577.5,1134.5 581.0,1133.8 584.5,1133.1 587.9,1132.4 591.4,1131.7 594.9,1131.0 598.4,1130.3 601.9,1129.6 605.3,1128.9 608.8,1128.1 612.3,1127.4 615.8,1126.7 619.3,1126.0 622.7,1125.2 626.2,1124.5 629.7,1123.8 633.2,1123.1 636.7,1122.4 640.1,1121.7 643.6,1121.0 647.1,1120.3 650.6,1119.6 654.1,1119.0 657.6,1118.3 661.1,1117.7 664.6,1117.1 668.1,1116.5 671.6,1115.9 675.1,1115.3 678.6,1114.8 682.1,1114.2 685.6,1113.7 689.2,1113.2 692.7,1112.7 696.2,1112.3 699.7,1111.8 703.3,1111.4 706.8,1111.0 710.3,1110.6 713.9,1110.2 717.4,1109.9 721.0,1109.6 724.5,1109.3 728.0,1109.0 731.6,1108.7 735.1,1108.5 738.7,1108.3 742.2,1108.1 745.8,1107.9 749.3,1107.8 752.9,1107.6 756.4,1107.5 760.0,1107.5 763.5,1107.4 767.1,1107.4 770.6,1107.4 774.2,1107.4 777.7,1107.5 781.2,1107.5 784.8,1107.6 788.3,1107.7 791.9,1107.9 795.4,1108.0 799.0,1108.2 802.5,1108.4 806.1,1108.6 809.6,1108.9 813.1,1109.1 816.7,1109.4 820.2,1109.7 823.8,1110.0 827.3,1110.3 830.8,1110.6 834.4,1110.9 837.9,1111.2 841.5,1111.5 845.0,1111.9 848.5,1112.2 852.1,1112.6 855.6,1112.9 859.2,1113.3 862.7,1113.6 866.2,1114.0 869.8,1114.3 873.3,1114.7 876.9,1115.0 880.4,1115.4 883.9,1115.7 887.5,1116.1 891.0,1116.4 894.6,1116.7 898.1,1117.0 901.7,1117.3 905.2,1117.6 908.8,1117.8 912.3,1118.1 915.9,1118.3 919.4,1118.6 923.0,1118.8 926.5,1119.0 930.1,1119.2 933.6,1119.4 937.2,1119.5 940.7,1119.7 944.3,1119.8 947.8,1119.9 951.4,1120.0 954.9,1120.1 958.5,1120.1 962.0,1120.2 965.6,1120.2 969.1,1120.2 972.7,1120.2 976.2,1120.2 979.8,1120.1 983.3,1120.1 986.9,1120.0 990.4,1119.9 994.0,1119.8 997.5,1119.6 1001.1,1119.5 1004.6,1119.4 1008.2,1119.2 1011.7,1119.0 1015.3,1118.8 1018.8,1118.6 1022.4,1118.4 1025.9,1118.2 1029.5,1118.0 1033.0,1117.8 1036.6,1117.6 1040.1,1117.3 1043.7,1117.1 1047.2,1116.9 1050.8,1116.6 1054.3,1116.4 1057.9,1116.2 1061.4,1116.0 1065.0,1115.8 1068.5,1115.6 1072.1,1115.3 1075.6,1115.1 1079.2,1114.9 1082.7,1114.8 1086.3,1114.6 1089.8,1114.4 1093.4,1114.2 1096.9,1114.0 1100.5,1113.9 1104.0,1113.7 1107.5,1113.5 1111.1,1113.4 1114.6,1113.2 1118.2,1113.1 1121.7,1112.9 1125.3,1112.8 1128.8,1112.7 1132.4,1112.5 1135.9,1112.4 1139.5,1112.3 1143.0,1112.1 1146.6,1112.0 1150.1,1111.9 1153.7,1111.8 1157.2,1111.7 1160.8,1111.5 1164.3,1111.4 1167.9,1111.3 1171.4,1111.2 1175.0,1111.1 1178.5,1111.0 1182.1,1110.9 1185.6,1110.8 1189.2,1110.7 1192.7,1110.7 1196.3,1110.6 1199.8,1110.5 1203.4,1110.4 1206.9,1110.3 1210.5,1110.2 1214.0,1110.1 1217.6,1110.1 1221.1,1110.0 1224.7,1109.9 1228.2,1109.8 1231.8,1109.7 1235.3,1109.7 1238.9,1109.6 1242.4,1109.5 1246.0,1109.4 1249.5,1109.4 1253.1,1109.3 1256.6,1109.2 1260.2,1109.1 1263.8,1109.1 1267.3,1109.0 1270.9,1108.9 1274.4,1108.8 1278.0,1108.8 1281.5,1108.7 1285.1,1108.6 1288.6,1108.5 1292.2,1108.4 1295.7,1108.4 1299.3,1108.3 1302.8,1108.2 1306.4,1108.1 1309.9,1108.0 1313.5,1107.9 1317.0,1107.9 1320.6,1107.8 1324.2,1107.7 1327.7,1107.6 1331.3,1107.5 1334.8,1107.4 1338.4,1107.3 1341.9,1107.2 1345.5,1107.1 1349.0,1107.0 1352.6,1106.9 1356.1,1106.8 1359.7,1106.7 1363.3,1106.5 1366.8,1106.4 1370.4,1106.3 1373.9,1106.2 1377.5,1106.1 1381.0,1105.9 1384.6,1105.8 1388.1,1105.7 1391.7,1105.5 1395.2,1105.4 1398.8,1105.2 1402.3,1105.1 1405.9,1104.9 1409.4,1104.8 1413.0,1104.6 1416.5,1104.4 1420.1,1104.3 1423.6,1104.1 1427.2,1103.9 1430.7,1103.7 1434.3,1103.5 1437.8,1103.3 1441.3,1103.1 1444.9,1102.9 1448.4,1102.7 1452.0,1102.5 1455.5,1102.3 1459.0,1102.1 1462.6,1101.9 1466.1,1101.6 1469.6,1101.4 1473.2,1101.2 1476.7,1100.9 1480.2,1100.7 1483.8,1100.5 1487.3,1100.4 1490.9,1100.2 1494.4,1100.1 1497.9,1100.0 1501.5,1099.9 1505.0,1099.9 1508.6,1099.9 1512.2,1099.9 1515.7,1100.1 1519.3,1100.2 1522.9,1100.4 1526.5,1100.7 1530.0,1101.0 1533.6,1101.4 1537.2,1101.7 1540.8,1102.1 1544.4,1102.5 1548.0,1102.9 1551.6,1103.2 1555.1,1103.6 1558.7,1103.9 1562.3,1104.2 1565.8,1104.4 1569.4,1104.6 1572.9,1104.7 1576.5,1104.7 1580.0,1104.7 1583.5,1104.5 1587.0,1104.3 1590.5,1103.9 1593.9,1103.4 1597.4,1102.8 1600.8,1102.0 1604.2,1101.2 1607.5,1100.1 1610.8,1099.0 1614.1,1097.7 1617.3,1096.2 1620.5,1094.7 1623.6,1093.0 1626.7,1091.2 1629.7,1089.3 1632.6,1087.3 1635.6,1085.2 1638.4,1083.1 1641.2,1080.9 1644.0,1078.6 1646.7,1076.3 1649.4,1073.9 1652.0,1071.4 1654.6,1068.9 1657.1,1066.3 1659.5,1063.7 1661.9,1061.0 1664.2,1058.3 1666.5,1055.6 1668.7,1052.8 1670.9,1050.0 1673.0,1047.1 1675.1,1044.2 1677.1,1041.3 1679.1,1038.3 1681.0,1035.3 1682.8,1032.3 1684.7,1029.3 1686.4,1026.2 1688.1,1023.2 1689.8,1020.1 1691.5,1016.9 1693.1,1013.8 1694.7,1010.6 1696.2,1007.4 1697.7,1004.2 1699.2,1001.0 1700.6,997.7 1702.0,994.5 1703.4,991.2 1704.8,987.9 1706.1,984.6 1707.5,981.3 1708.8,978.0 1710.0,974.7 1711.3,971.3 1712.6,968.0 1713.8,964.7 1715.0,961.3 1716.2,958.0 1717.4,954.6 1718.6,951.3 1719.8,947.9 1721.0,944.6 1722.1,941.2 1723.3,937.8 1724.4,934.5 1725.6,931.1 1726.7,927.7 1727.8,924.3 1728.9,921.0 1730.0,917.6 1731.1,914.2 1732.2,910.8 1733.2,907.4 1734.3,904.0 1735.3,900.6 1736.4,897.2 1737.4,893.8 1738.4,890.4 1739.5,887.0 1740.5,883.6 1741.5,880.2 1742.5,876.8 1743.4,873.4 1744.4,870.0 1745.4,866.6 1746.4,863.1 1747.3,859.7 1748.3,856.3 1749.2,852.9 1750.2,849.4 1751.1,846.0 1752.0,842.6 1753.0,839.1 1753.9,835.7 1754.8,832.3 1755.7,828.8 1756.6,825.4 1757.5,822.0 1758.4,818.5 1759.3,815.1 1760.2,811.6 1761.0,808.2 1761.9,804.8 1762.8,801.3 1763.7,797.9 1764.5,794.4 1765.4,791.0 1766.2,787.5 1767.1,784.1 1768.0,780.6 1768.8,777.2 1769.6,773.7 1770.5,770.3 1771.3,766.8 1772.2,763.4 1773.0,759.9 1773.8,756.4 1774.7,753.0 1775.5,749.5 1776.3,746.1 1777.2,742.6 1778.0,739.2 1778.8,735.7 1779.6,732.3 1780.5,728.8 1781.3,725.3 1782.1,721.9 1782.9,718.4 1783.7,715.0 1784.5,711.5 1785.4,708.0 1786.2,704.6 1787.0,701.1 1787.8,697.7 1788.6,694.2 1789.4,690.7 1790.2,687.3 1791.0,683.8 1791.8,680.4 1792.6,676.9 1793.4,673.4 1794.2,670.0 1795.0,666.5 1795.7,663.0 1796.5,659.6 1797.3,656.1 1798.1,652.7 1798.9,649.2 1799.7,645.7 1800.4,642.3 1801.2,638.8 1802.0,635.3 1802.8,631.9 1803.5,628.4 1804.3,624.9 1805.1,621.5 1805.9,618.0 1806.6,614.5 1807.4,611.0 1808.2,607.6 1808.9,604.1 1809.7,600.6 1810.5,597.2 1811.2,593.7 1812.0,590.2 1812.7,586.8 1813.5,583.3 1814.2,579.8 1815.0,576.3 1815.8,572.9 1816.5,569.4 1817.3,565.9 1818.0,562.5 1818.8,559.0 1819.5,555.5 1820.2,552.0 1821.0,548.6 1821.7,545.1 1822.5,541.6 1823.2,538.1 1824.0,534.7 1824.7,531.2 1825.4,527.7 1826.2,524.2 1826.9,520.8 1827.6,517.3 1828.4,513.8 1829.1,510.3 1829.8,506.9 1830.6,503.4 1831.3,499.9 1832.0,496.4 1832.8,493.0 1833.5,489.5 1834.2,486.0 1834.9,482.5 1835.7,479.0 1836.4,475.6 1837.1,472.1 1837.8,468.6 1838.5,465.1 1839.3,461.6 1840.0,458.2 1840.7,454.7 1841.4,451.2 1842.1,447.7 1842.8,444.2 1843.6,440.8 1844.3,437.3 1845.0,433.8 1845.7,430.3 1846.4,426.8 1847.1,423.4 1847.8,419.9 1848.5,416.4 1849.2,412.9 1850.0,409.4 1850.7,406.0 1851.4,402.5 1852.1,399.0 1852.8,395.5 1853.5,392.0 1854.2,388.5 1854.9,385.1 1855.6,381.6 1856.3,378.1 1857.0,374.6" stroke="#ff00ff"/>
<path d="M270.0,1162.5 273.2,1162.5 276.3,1162.5 279.5,1162.4 282.6,1162.4 285.8,1162.4 288.9,1162.3 292.1,1162.3 295.2,1162.2 298.4,1162.2 301.6,1162.1 304.7,1162.0 307.9,1162.0 311.0,1161.9 314.2,1161.8 317.3,1161.7 320.5,1161.6 323.6,1161.5 326.8,1161.4 329.9,1161.3 333.1,1161.2 336.2,1161.1 339.4,1161.0 342.5,1160.9 345.7,1160.8 348.8,1160.6 352.0,1160.5 355.1,1160.4 358.3,1160.2 361.4,1160.1 364.6,1160.0 367.7,1159.8 370.9,1159.7 374.0,1159.5 377.2,1159.3 380.3,1159.2 383.5,1159.0 386.6,1158.8 389.7,1158.7 392.9,1158.5 396.0,1158.3 399.2,1158.1 402.3,1158.0 405.5,1157.8 408.6,1157.6 411.8,1157.4 414.9,1157.2 418.1,1157.0 421.2,1156.8 424.3,1156.6 427.5,1156.4 430.6,1156.2 433.8,1156.0 436.9,1155.7 440.1,1155.5 443.2,1155.3 446.4,1155.1 449.5,1154.9 452.6,1154.6 455.8,1154.4 458.9,1154.2 462.1,1154.0 465.2,1153.7 468.4,1153.5 471.5,1153.3 474.6,1153.0 477.8,1152.8 480.9,1152.5 484.1,1152.3 487.2,1152.1 490.3,1151.8 493.5,1151.6 496.6,1151.3 499.8,1151.1 502.9,1150.8 506.1,1150.6 509.2,1150.3 512.3,1150.1 515.5,1149.8 518.6,1149.6 521.8,1149.3 524.9,1149.0 528.0,1148.8 531.2,1148.5 534.3,1148.3 537.5,1148.0 540.6,1147.7 543.8,1147.5 546.9,1147.2 550.0,1147.0 553.2,1146.7 556.3,1146.4 559.5,1146.2 562.6,1145.9 565.7,1145.7 568.9,1145.4 572.0,1145.1 575.2,1144.9 578.3,1144.6 581.5,1144.3 584.6,1144.1 587.7,1143.8 590.9,1143.6 594.0,1143.3 597.2,1143.0 600.3,1142.8 603.4,1142.5 606.6,1142.3 609.7,1142.0 612.9,1141.8 616.0,1141.5 619.1,1141.2 622.3,1141.0 625.4,1140.7 628.6,1140.5 631.7,1140.2 634.9,1140.0 638.0,1139.7 641.1,1139.5 644.3,1139.2 647.4,1139.0 650.6,1138.8 653.7,1138.5 656.9,1138.3 660.0,1138.0 663.1,1137.8 666.3,1137.6 669.4,1137.4 672.6,1137.1 675.7,1136.9 678.9,1136.7 682.0,1136.5 685.1,1136.2 688.3,1136.0 691.4,1135.8 694.6,1135.6 697.7,1135.4 700.9,1135.2 704.0,1135.0 707.2,1134.8 710.3,1134.6 713.4,1134.4 716.6,1134.2 719.7,1134.0 722.9,1133.8 726.0,1133.6 729.2,1133.4 732.3,1133.3 735.5,1133.1 738.6,1132.9 741.8,1132.8 744.9,1132.6 748.0,1132.4 751.2,1132.3 754.3,1132.1 757.5,1132.0 760.6,1131.8 763.8,1131.7 766.9,1131.6 770.1,1131.4 773.2,1131.3 776.4,1131.2 779.5,1131.1 782.7,1130.9 785.8,1130.8 789.0,1130.7 792.1,1130.6 795.3,1130.5 798.4,1130.4 801.6,1130.3 804.7,1130.3 807.9,1130.2 811.0,1130.1 814.2,1130.0 817.3,1130.0 820.5,1129.9 823.6,1129.9 826.8,1129.8 829.9,1129.8 833.1,1129.7 836.2,1129.7 839.4,1129.6 842.5,1129.6 845.7,1129.6 848.8,1129.6 852.0,1129.5 855.1,1129.5 858.3,1129.5 861.4,1129.5 864.6,1129.5 867.7,1129.4 870.9,1129.4 874.0,1129.4 877.2,1129.4 880.3,1129.4 883.5,1129.4 886.6,1129.4 889.8,1129.4 892.9,1129.4 896.1,1129.5 899.3,1129.5 902.4,1129.5 905.6,1129.5 908.7,1129.5 911.9,1129.5 915.0,1129.5 918.2,1129.6 921.3,1129.6 924.5,1129.6 927.6,1129.6 930.8,1129.6 933.9,1129.6 937.1,1129.7 940.2,1129.7 943.4,1129.7 946.6,1129.7 949.7,1129.7 952.9,1129.8 956.0,1129.8 959.2,1129.8 962.3,1129.8 965.5,1129.8 968.6,1129.9 971.8,1129.9 974.9,1129.9 978.1,1129.9 981.2,1129.9 984.4,1129.9 987.6,1129.9 990.7,1129.9 993.9,1129.9 997.0,1129.9 1000.2,1129.9 1003.3,1129.9 1006.5,1129.9 1009.6,1129.9 1012.8,1129.9 1015.9,1129.9 1019.1,1129.9 1022.2,1129.9 1025.4,1129.9 1028.5,1129.9 1031.7,1129.8 1034.9,1129.8 1038.0,1129.8 1041.2,1129.8 1044.3,1129.7 1047.5,1129.7 1050.6,1129.6 1053.8,1129.6 1056.9,1129.5 1060.1,1129.5 1063.2,1129.4 1066.4,1129.4 1069.5,1129.3 1072.7,1129.2 1075.8,1129.1 1079.0,1129.1 1082.1,1129.0 1085.3,1128.9 1088.4,1128.8 1091.6,1128.7 1094.7,1128.6 1097.9,1128.5 1101.0,1128.5 1104.2,1128.4 1107.3,1128.3 1110.5,1128.2 1113.6,1128.1 1116.8,1128.0 1119.9,1127.9 1123.1,1127.8 1126.2,1127.7 1129.4,1127.6 1132.5,1127.5 1135.7,1127.4 1138.8,1127.3 1142.0,1127.2 1145.1,1127.1 1148.3,1127.0 1151.4,1126.9 1154.6,1126.9 1157.7,1126.8 1160.9,1126.7 1164.0,1126.6 1167.2,1126.6 1170.3,1126.5 1173.5,1126.4 1176.6,1126.4 1179.8,1126.3 1183.0,1126.3 1186.1,1126.2 1189.3,1126.2 1192.4,1126.2 1195.6,1126.1 1198.7,1126.1 1201.9,1126.1 1205.0,1126.1 1208.2,1126.1 1211.3,1126.1 1214.5,1126.1 1217.6,1126.1 1220.8,1126.1 1223.9,1126.2 1227.1,1126.2 1230.2,1126.3 1233.4,1126.3 1236.5,1126.4 1239.7,1126.5 1242.8,1126.5 1246.0,1126.6 1249.1,1126.7 1252.3,1126.8 1255.4,1126.9 1258.6,1127.0 1261.8,1127.1 1264.9,1127.2 1268.1,1127.3 1271.2,1127.4 1274.4,1127.5 1277.5,1127.6 1280.7,1127.7 1283.8,1127.7 1287.0,1127.8 1290.1,1127.9 1293.3,1128.0 1296.4,1128.1 1299.6,1128.2 1302.7,1128.2 1305.9,1128.3 1309.0,1128.4 1312.2,1128.4 1315.3,1128.5 1318.5,1128.5 1321.7,1128.5 1324.8,1128.6 1328.0,1128.6 1331.1,1128.6 1334.3,1128.6 1337.4,1128.5 1340.6,1128.5 1343.7,1128.5 1346.9,1128.4 1350.0,1128.3 1353.2,1128.3 1356.3,1128.2 1359.5,1128.1 1362.6,1128.0 1365.8,1127.9 1368.9,1127.7 1372.0,1127.6 1375.2,1127.4 1378.3,1127.3 1381.5,1127.1 1384.6,1126.9 1387.8,1126.7 1390.9,1126.5 1394.1,1126.3 1397.2,1126.1 1400.4,1125.9 1403.5,1125.7 1406.7,1125.5 1409.8,1125.2 1412.9,1125.0 1416.1,1124.7 1419.2,1124.5 1422.4,1124.2 1425.5,1123.9 1428.7,1123.6 1431.8,1123.3 1434.9,1123.1 1438.1,1122.8 1441.2,1122.5 1444.4,1122.2 1447.5,1121.9 1450.6,1121.6 1453.8,1121.3 1456.9,1121.0 1460.1,1120.7 1463.2,1120.4 1466.3,1120.2 1469.5,1119.9 1472.6,1119.6 1475.8,1119.4 1478.9,1119.2 1482.0,1119.0 1485.2,1118.8 1488.3,1118.6 1491.5,1118.5 1494.6,1118.4 1497.7,1118.3 1500.9,1118.2 1504.0,1118.1 1507.2,1118.1 1510.3,1118.1 1513.5,1118.2 1516.6,1118.3 1519.8,1118.4 1522.9,1118.5 1526.1,1118.7 1529.2,1118.9 1532.4,1119.1 1535.5,1119.4 1538.7,1119.6 1541.8,1119.9 1545.0,1120.2 1548.1,1120.5 1551.3,1120.8 1554.5,1121.1 1557.6,1121.4 1560.8,1121.7 1563.9,1121.9 1567.1,1122.2 1570.2,1122.4 1573.4,1122.6 1576.5,1122.8 1579.7,1122.9 1582.8,1123.0 1586.0,1123.1 1589.1,1123.1 1592.3,1123.1 1595.4,1123.0 1598.6,1122.9 1601.7,1122.7 1604.9,1122.5 1608.0,1122.2 1611.1,1121.8 1614.3,1121.3 1617.4,1120.8 1620.5,1120.2 1623.6,1119.5 1626.6,1118.8 1629.7,1118.0 1632.7,1117.1 1635.7,1116.1 1638.7,1115.1 1641.6,1114.0 1644.5,1112.7 1647.4,1111.5 1650.2,1110.1 1653.0,1108.6 1655.7,1107.1 1658.4,1105.4 1661.0,1103.7 1663.6,1101.9 1666.1,1100.1 1668.6,1098.2 1671.0,1096.2 1673.4,1094.1 1675.8,1092.0 1678.1,1089.8 1680.3,1087.6 1682.5,1085.3 1684.7,1083.0 1686.8,1080.6 1688.8,1078.2 1690.8,1075.8 1692.8,1073.3 1694.7,1070.8 1696.6,1068.2 1698.4,1065.6 1700.2,1063.0 1701.9,1060.4 1703.6,1057.7 1705.3,1055.1 1706.9,1052.3 1708.6,1049.6 1710.1,1046.9 1711.7,1044.1 1713.3,1041.3 1714.8,1038.6 1716.3,1035.8 1717.8,1033.0 1719.2,1030.2 1720.7,1027.3 1722.2,1024.5 1723.6,1021.7 1725.0,1018.9 1726.4,1016.1 1727.9,1013.2 1729.3,1010.4 1730.7,1007.6 1732.0,1004.7 1733.4,1001.9 1734.8,999.1 1736.1,996.2 1737.5,993.4 1738.8,990.5 1740.1,987.7 1741.4,984.8 1742.8,981.9 1744.1,979.1 1745.4,976.2 1746.6,973.3 1747.9,970.5 1749.2,967.6 1750.4,964.7 1751.7,961.8 1752.9,958.9 1754.2,956.0 1755.4,953.1 1756.6,950.2 1757.9,947.3 1759.1,944.4 1760.3,941.5 1761.5,938.6 1762.6,935.7 1763.8,932.8 1765.0,929.9 1766.2,926.9 1767.3,924.0 1768.5,921.1 1769.6,918.2 1770.8,915.2 1771.9,912.3 1773.1,909.4 1774.2,906.4 1775.3,903.5 1776.4,900.5 1777.5,897.6 1778.6,894.6 1779.7,891.7 1780.8,888.7 1781.9,885.8 1783.0,882.8 1784.1,879.9 1785.2,876.9 1786.2,873.9 1787.3,871.0 1788.4,868.0 1789.4,865.0 1790.5,862.0 1791.5,859.1 1792.5,856.1 1793.6,853.1 1794.6,850.1 1795.7,847.2 1796.7,844.2 1797.7,841.2 1798.7,838.2 1799.7,835.2 1800.8,832.2 1801.8,829.3 1802.8,826.3 1803.8,823.3 1804.8,820.3 1805.8,817.3 1806.8,814.3 1807.8,811.3 1808.7,808.3 1809.7,805.3 1810.7,802.3 1811.7,799.3 1812.7,796.3 1813.7,793.3 1814.6,790.3 1815.6,787.3 1816.6,784.3 1817.6,781.3 1818.5,778.3 1819.5,775.3 1820.5,772.3 1821.4,769.3 1822.4,766.3 1823.3,763.3 1824.3,760.3 1825.3,757.2 1826.2,754.2 1827.2,751.2 1828.1,748.2 1829.1,745.2 1830.0,742.2 1831.0,739.2 1832.0,736.2 1832.9,733.2 1833.9,730.2 1834.8,727.2 1835.8,724.2 1836.7,721.2 1837.7,718.2 1838.6,715.2 1839.6,712.2 1840.6,709.1 1841.5,706.1 1842.5,703.1 1843.4,700.1 1844.4,697.1 1845.4,694.1 1846.3,691.1 1847.3,688.1 1848.2,685.1 1849.2,682.1 1850.2,679.1 1851.1,676.1 1852.1,673.2 1853.1,670.2 1854.1,667.2 1855.0,664.2 1856.0,661.2 1857.0,658.2" stroke="#008000"/>
<path d="M270.0,1161.5 273.0,1161.4 276.1,1161.3 279.1,1161.2 282.2,1161.1 285.2,1161.0 288.3,1160.8 291.3,1160.7 294.4,1160.6 297.4,1160.5 300.5,1160.4 303.5,1160.2 306.6,1160.1 309.6,1160.0 312.7,1159.9 315.7,1159.7 318.8,1159.6 321.8,1159.5 324.9,1159.3 327.9,1159.2 330.9,1159.0 334.0,1158.9 337.0,1158.7 340.1,1158.6 343.1,1158.4 346.2,1158.3 349.2,1158.1 352.3,1157.9 355.3,1157.8 358.4,1157.6 361.4,1157.4 364.4,1157.2 367.5,1157.1 370.5,1156.9 373.6,1156.7 376.6,1156.5 379.7,1156.3 382.7,1156.1 385.8,1155.9 388.8,1155.7 391.8,1155.5 394.9,1155.3 397.9,1155.0 401.0,1154.8 404.0,1154.6 407.0,1154.4 410.1,1154.1 413.1,1153.9 416.2,1153.6 419.2,1153.4 422.2,1153.1 425.3,1152.9 428.3,1152.6 431.3,1152.3 434.4,1152.1 437.4,1151.8 440.5,1151.5 443.5,1151.2 446.5,1150.9 449.6,1150.6 452.6,1150.3 455.6,1150.0 458.6,1149.7 461.7,1149.4 464.7,1149.1 467.7,1148.8 470.8,1148.4 473.8,1148.1 476.8,1147.8 479.9,1147.5 482.9,1147.1 485.9,1146.8 488.9,1146.4 492.0,1146.1 495.0,1145.7 498.0,1145.4 501.1,1145.0 504.1,1144.7 507.1,1144.3 510.1,1144.0 513.2,1143.6 516.2,1143.2 519.2,1142.9 522.2,1142.5 525.3,1142.2 528.3,1141.8 531.3,1141.4 534.3,1141.1 537.4,1140.7 540.4,1140.3 543.4,1140.0 546.5,1139.6 549.5,1139.2 552.5,1138.9 555.5,1138.5 558.6,1138.1 561.6,1137.8 564.6,1137.4 567.7,1137.1 570.7,1136.7 573.7,1136.3 576.7,1136.0 579.8,1135.6 582.8,1135.3 585.8,1134.9 588.9,1134.6 591.9,1134.2 594.9,1133.9 598.0,1133.6 601.0,1133.2 604.0,1132.9 607.1,1132.6 610.1,1132.2 613.1,1131.9 616.2,1131.6 619.2,1131.3 622.2,1130.9 625.3,1130.6 628.3,1130.3 631.3,1130.0 634.4,1129.7 637.4,1129.4 640.5,1129.1 643.5,1128.8 646.5,1128.5 649.6,1128.3 652.6,1128.0 655.6,1127.7 658.7,1127.4 661.7,1127.2 664.8,1126.9 667.8,1126.6 670.8,1126.4 673.9,1126.1 676.9,1125.9 680.0,1125.7 683.0,1125.4 686.1,1125.2 689.1,1125.0 692.1,1124.8 695.2,1124.6 698.2,1124.4 701.3,1124.2 704.3,1124.0 707.4,1123.8 710.4,1123.6 713.4,1123.4 716.5,1123.3 719.5,1123.1 722.6,1122.9 725.6,1122.8 728.7,1122.7 731.7,1122.5 734.7,1122.4 737.8,1122.3 740.8,1122.1 743.9,1122.0 746.9,1121.9 750.0,1121.8 753.0,1121.8 756.1,1121.7 759.1,1121.6 762.2,1121.5 765.2,1121.5 768.2,1121.4 771.3,1121.4 774.3,1121.4 777.4,1121.3 780.4,1121.3 783.5,1121.3 786.5,1121.3 789.6,1121.3 792.6,1121.3 795.7,1121.3 798.7,1121.4 801.8,1121.4 804.8,1121.5 807.8,1121.5 810.9,1121.6 813.9,1121.7 817.0,1121.7 820.0,1121.8 823.1,1121.9 826.1,1122.0 829.2,1122.1 832.2,1122.3 835.3,1122.4 838.3,1122.5 841.4,1122.6 844.4,1122.8 847.4,1122.9 850.5,1123.1 853.5,1123.2 856.6,1123.4 859.6,1123.5 862.7,1123.7 865.7,1123.9 868.8,1124.0 871.8,1124.2 874.9,1124.4 877.9,1124.5 881.0,1124.7 884.0,1124.9 887.1,1125.1 890.1,1125.3 893.1,1125.5 896.2,1125.6 899.2,1125.8 902.3,1126.0 905.3,1126.2 908.4,1126.4 911.4,1126.6 914.5,1126.7 917.5,1126.9 920.6,1127.1 923.6,1127.3 926.7,1127.5 929.7,1127.6 932.8,1127.8 935.8,1128.0 938.9,1128.1 941.9,1128.3 944.9,1128.5 948.0,1128.6 951.0,1128.8 954.1,1128.9 957.1,1129.0 960.2,1129.2 963.2,1129.3 966.3,1129.4 969.3,1129.6 972.4,1129.7 975.4,1129.8 978.5,1129.9 981.5,1130.0 984.6,1130.1 987.6,1130.1 990.7,1130.2 993.7,1130.3 996.8,1130.3 999.8,1130.4 1002.9,1130.4 1005.9,1130.5 1009.0,1130.5 1012.0,1130.6 1015.1,1130.6 1018.1,1130.6 1021.2,1130.6 1024.2,1130.6 1027.3,1130.6 1030.3,1130.7 1033.4,1130.7 1036.4,1130.7 1039.5,1130.7 1042.5,1130.6 1045.6,1130.6 1048.6,1130.6 1051.7,1130.6 1054.7,1130.6 1057.8,1130.6 1060.8,1130.5 1063.9,1130.5 1066.9,1130.5 1070.0,1130.5 1073.0,1130.4 1076.1,1130.4 1079.1,1130.4 1082.2,1130.3 1085.2,1130.3 1088.3,1130.3 1091.3,1130.2 1094.4,1130.2 1097.4,1130.2 1100.5,1130.1 1103.5,1130.1 1106.6,1130.1 1109.6,1130.1 1112.7,1130.0 1115.7,1130.0 1118.8,1130.0 1121.8,1129.9 1124.9,1129.9 1127.9,1129.9 1131.0,1129.9 1134.0,1129.9 1137.1,1129.9 1140.1,1129.9 1143.2,1129.8 1146.2,1129.8 1149.3,1129.8 1152.3,1129.8 1155.4,1129.9 1158.4,1129.9 1161.4,1129.9 1164.5,1129.9 1167.5,1129.9 1170.6,1130.0 1173.6,1130.0 1176.7,1130.0 1179.7,1130.1 1182.8,1130.1 1185.8,1130.2 1188.9,1130.2 1191.9,1130.3 1195.0,1130.3 1198.0,1130.4 1201.1,1130.4 1204.1,1130.5 1207.2,1130.6 1210.2,1130.6 1213.3,1130.7 1216.3,1130.8 1219.4,1130.8 1222.4,1130.9 1225.5,1131.0 1228.5,1131.0 1231.6,1131.1 1234.6,1131.2 1237.7,1131.3 1240.7,1131.3 1243.8,1131.4 1246.8,1131.5 1249.8,1131.5 1252.9,1131.6 1255.9,1131.7 1259.0,1131.8 1262.0,1131.8 1265.1,1131.9 1268.1,1132.0 1271.2,1132.0 1274.2,1132.1 1277.3,1132.1 1280.3,1132.2 1283.4,1132.2 1286.4,1132.3 1289.5,1132.3 1292.5,1132.4 1295.6,1132.4 1298.6,1132.5 1301.7,1132.5 1304.7,1132.5 1307.8,1132.6 1310.8,1132.6 1313.9,1132.6 1316.9,1132.6 1320.0,1132.6 1323.0,1132.6 1326.1,1132.6 1329.1,1132.6 1332.2,1132.6 1335.2,1132.6 1338.3,1132.6 1341.3,1132.6 1344.4,1132.5 1347.4,1132.5 1350.5,1132.4 1353.5,1132.4 1356.6,1132.3 1359.6,1132.3 1362.7,1132.2 1365.7,1132.1 1368.8,1132.0 1371.8,1131.9 1374.9,1131.8 1377.9,1131.7 1381.0,1131.6 1384.0,1131.5 1387.1,1131.3 1390.1,1131.2 1393.2,1131.1 1396.2,1130.9 1399.3,1130.7 1402.3,1130.6 1405.4,1130.4 1408.4,1130.2 1411.5,1130.1 1414.5,1129.9 1417.6,1129.7 1420.6,1129.5 1423.7,1129.4 1426.7,1129.2 1429.8,1129.0 1432.8,1128.8 1435.9,1128.6 1438.9,1128.5 1442.0,1128.3 1445.0,1128.1 1448.1,1127.9 1451.1,1127.8 1454.2,1127.6 1457.2,1127.5 1460.2,1127.3 1463.3,1127.2 1466.3,1127.1 1469.4,1126.9 1472.4,1126.8 1475.5,1126.7 1478.5,1126.6 1481.6,1126.5 1484.6,1126.5 1487.6,1126.4 1490.7,1126.3 1493.7,1126.3 1496.8,1126.3 1499.8,1126.3 1502.8,1126.3 1505.9,1126.3 1508.9,1126.3 1512.0,1126.4 1515.0,1126.4 1518.0,1126.5 1521.1,1126.6 1524.1,1126.7 1527.1,1126.9 1530.2,1127.0 1533.2,1127.2 1536.2,1127.3 1539.3,1127.5 1542.3,1127.7 1545.3,1127.9 1548.4,1128.0 1551.4,1128.2 1554.4,1128.4 1557.5,1128.5 1560.5,1128.7 1563.6,1128.8 1566.6,1129.0 1569.7,1129.1 1572.7,1129.2 1575.8,1129.3 1578.8,1129.3 1581.9,1129.3 1585.0,1129.3 1588.0,1129.3 1591.1,1129.3 1594.2,1129.1 1597.3,1129.0 1600.3,1128.8 1603.4,1128.6 1606.4,1128.2 1609.5,1127.9 1612.6,1127.5 1615.6,1127.0 1618.6,1126.4 1621.7,1125.8 1624.7,1125.1 1627.7,1124.4 1630.6,1123.5 1633.6,1122.6 1636.5,1121.7 1639.4,1120.7 1642.3,1119.6 1645.1,1118.4 1647.9,1117.2 1650.7,1115.9 1653.4,1114.6 1656.0,1113.2 1658.7,1111.7 1661.2,1110.2 1663.8,1108.6 1666.3,1107.0 1668.7,1105.3 1671.1,1103.5 1673.5,1101.7 1675.8,1099.8 1678.1,1097.9 1680.4,1096.0 1682.6,1094.0 1684.8,1091.9 1686.9,1089.8 1689.0,1087.7 1691.1,1085.5 1693.2,1083.3 1695.2,1081.1 1697.2,1078.8 1699.1,1076.5 1701.1,1074.1 1703.0,1071.7 1704.8,1069.3 1706.7,1066.9 1708.5,1064.4 1710.3,1061.9 1712.1,1059.4 1713.8,1056.9 1715.6,1054.3 1717.3,1051.7 1719.0,1049.1 1720.7,1046.5 1722.3,1043.9 1723.9,1041.3 1725.6,1038.6 1727.2,1036.0 1728.8,1033.3 1730.3,1030.6 1731.9,1027.9 1733.4,1025.3 1735.0,1022.6 1736.5,1019.9 1738.0,1017.2 1739.5,1014.5 1741.0,1011.8 1742.5,1009.1 1743.9,1006.4 1745.4,1003.7 1746.8,1001.0 1748.2,998.3 1749.7,995.6 1751.1,992.8 1752.5,990.1 1753.9,987.4 1755.2,984.7 1756.6,981.9 1758.0,979.2 1759.3,976.5 1760.6,973.7 1762.0,971.0 1763.3,968.2 1764.6,965.5 1765.9,962.7 1767.2,960.0 1768.5,957.2 1769.8,954.5 1771.0,951.7 1772.3,948.9 1773.5,946.2 1774.8,943.4 1776.0,940.6 1777.3,937.9 1778.5,935.1 1779.7,932.3 1780.9,929.5 1782.1,926.7 1783.3,923.9 1784.5,921.2 1785.7,918.4 1786.9,915.6 1788.0,912.8 1789.2,910.0 1790.3,907.2 1791.5,904.4 1792.6,901.6 1793.8,898.8 1794.9,896.0 1796.1,893.2 1797.2,890.3 1798.3,887.5 1799.4,884.7 1800.6,881.9 1801.7,879.1 1802.8,876.3 1803.9,873.4 1805.0,870.6 1806.1,867.8 1807.2,865.0 1808.3,862.1 1809.4,859.3 1810.4,856.5 1811.5,853.6 1812.6,850.8 1813.7,848.0 1814.8,845.1 1815.8,842.3 1816.9,839.4 1818.0,836.6 1819.1,833.7 1820.1,830.9 1821.2,828.1 1822.3,825.2 1823.3,822.4 1824.4,819.5 1825.5,816.7 1826.5,813.8 1827.6,811.0 1828.7,808.1 1829.7,805.2 1830.8,802.4 1831.9,799.5 1833.0,796.7 1834.0,793.8 1835.1,790.9 1836.2,788.1 1837.2,785.2 1838.3,782.4 1839.4,779.5 1840.5,776.6 1841.6,773.8 1842.6,770.9 1843.7,768.0 1844.8,765.2 1845.9,762.3 1847.0,759.4 1848.1,756.6 1849.2,753.7 1850.3,750.8 1851.4,748.0 1852.5,745.1 1853.6,742.2 1854.7,739.3 1855.9,736.5 1857.0,733.6" stroke="#00ff00"/>
</g></g>
<g class="tk">
<text x="236.9" y="1181.3" text-anchor="end">0</text>
<text x="236.9" y="1007.3" text-anchor="end">200</text>
<text x="236.9" y="832.3" text-anchor="end">400</text>
<text x="236.9" y="658.3" text-anchor="end">600</text>
<text x="236.9" y="483.3" text-anchor="end">800</text>
<text x="236.9" y="309.3" text-anchor="end">1000</text>
<text x="236.9" y="134.3" text-anchor="end">1200</text>
<text x="271.1" y="1243.0" text-anchor="middle">0.0</text>
<text x="429.7" y="1243.0" text-anchor="middle">0.1</text>
<text x="588.3" y="1243.0" text-anchor="middle">0.2</text>
<text x="746.9" y="1243.0" text-anchor="middle">0.3</text>
<text x="905.5" y="1243.0" text-anchor="middle">0.4</text>
<text x="1064.1" y="1243.0" text-anchor="middle">0.5</text>
<text x="1222.7" y="1243.0" text-anchor="middle">0.6</text>
<text x="1381.3" y="1243.0" text-anchor="middle">0.7</text>
<text x="1539.9" y="1243.0" text-anchor="middle">0.8</text>
<text x="1698.5" y="1243.0" text-anchor="middle">0.9</text>
<text x="1857.1" y="1243.0" text-anchor="middle">1.0</text>
</g>
<text class="ax" transform="translate(932.3,1331.7) scale(1.01,1)">Circularity</text>
<text class="ax" transform="translate(85.2,783.3) rotate(-90) scale(1.0068,1.035)">Frequency</text>
<g shape-rendering="crispEdges">
<rect x="365" y="70" width="584" height="496" fill="#000"/>
<rect x="349" y="54" width="585" height="497" fill="#000"/>
<rect x="351" y="56" width="581" height="493" fill="#fff"/>
<rect x="387" y="189" width="120" height="9" fill="#000000"/>
<rect x="387" y="254" width="120" height="9" fill="#ff0000"/>
<rect x="387" y="319" width="120" height="9" fill="#0000ff"/>
<rect x="387" y="385" width="120" height="8" fill="#ff00ff"/>
<rect x="387" y="450" width="120" height="9" fill="#008000"/>
<rect x="387" y="515" width="120" height="9" fill="#00ff00"/>
</g>
<text class="lg b" transform="translate(387.5,146.2) scale(0.986,1.03)">Spray distance (mm)</text>
<text class="lg" transform="translate(521.2,210.7) scale(1,1.055)">70</text>
<text class="lg" transform="translate(521.2,276.1) scale(1,1.055)">80</text>
<text class="lg" transform="translate(521.2,341.5) scale(1,1.055)">90</text>
<text class="lg" transform="translate(521.2,406.9) scale(1,1.055)">100</text>
<text class="lg" transform="translate(521.2,472.3) scale(1,1.055)">110</text>
<text class="lg" transform="translate(521.2,537.7) scale(1,1.055)">120</text>
</svg></body></html>
